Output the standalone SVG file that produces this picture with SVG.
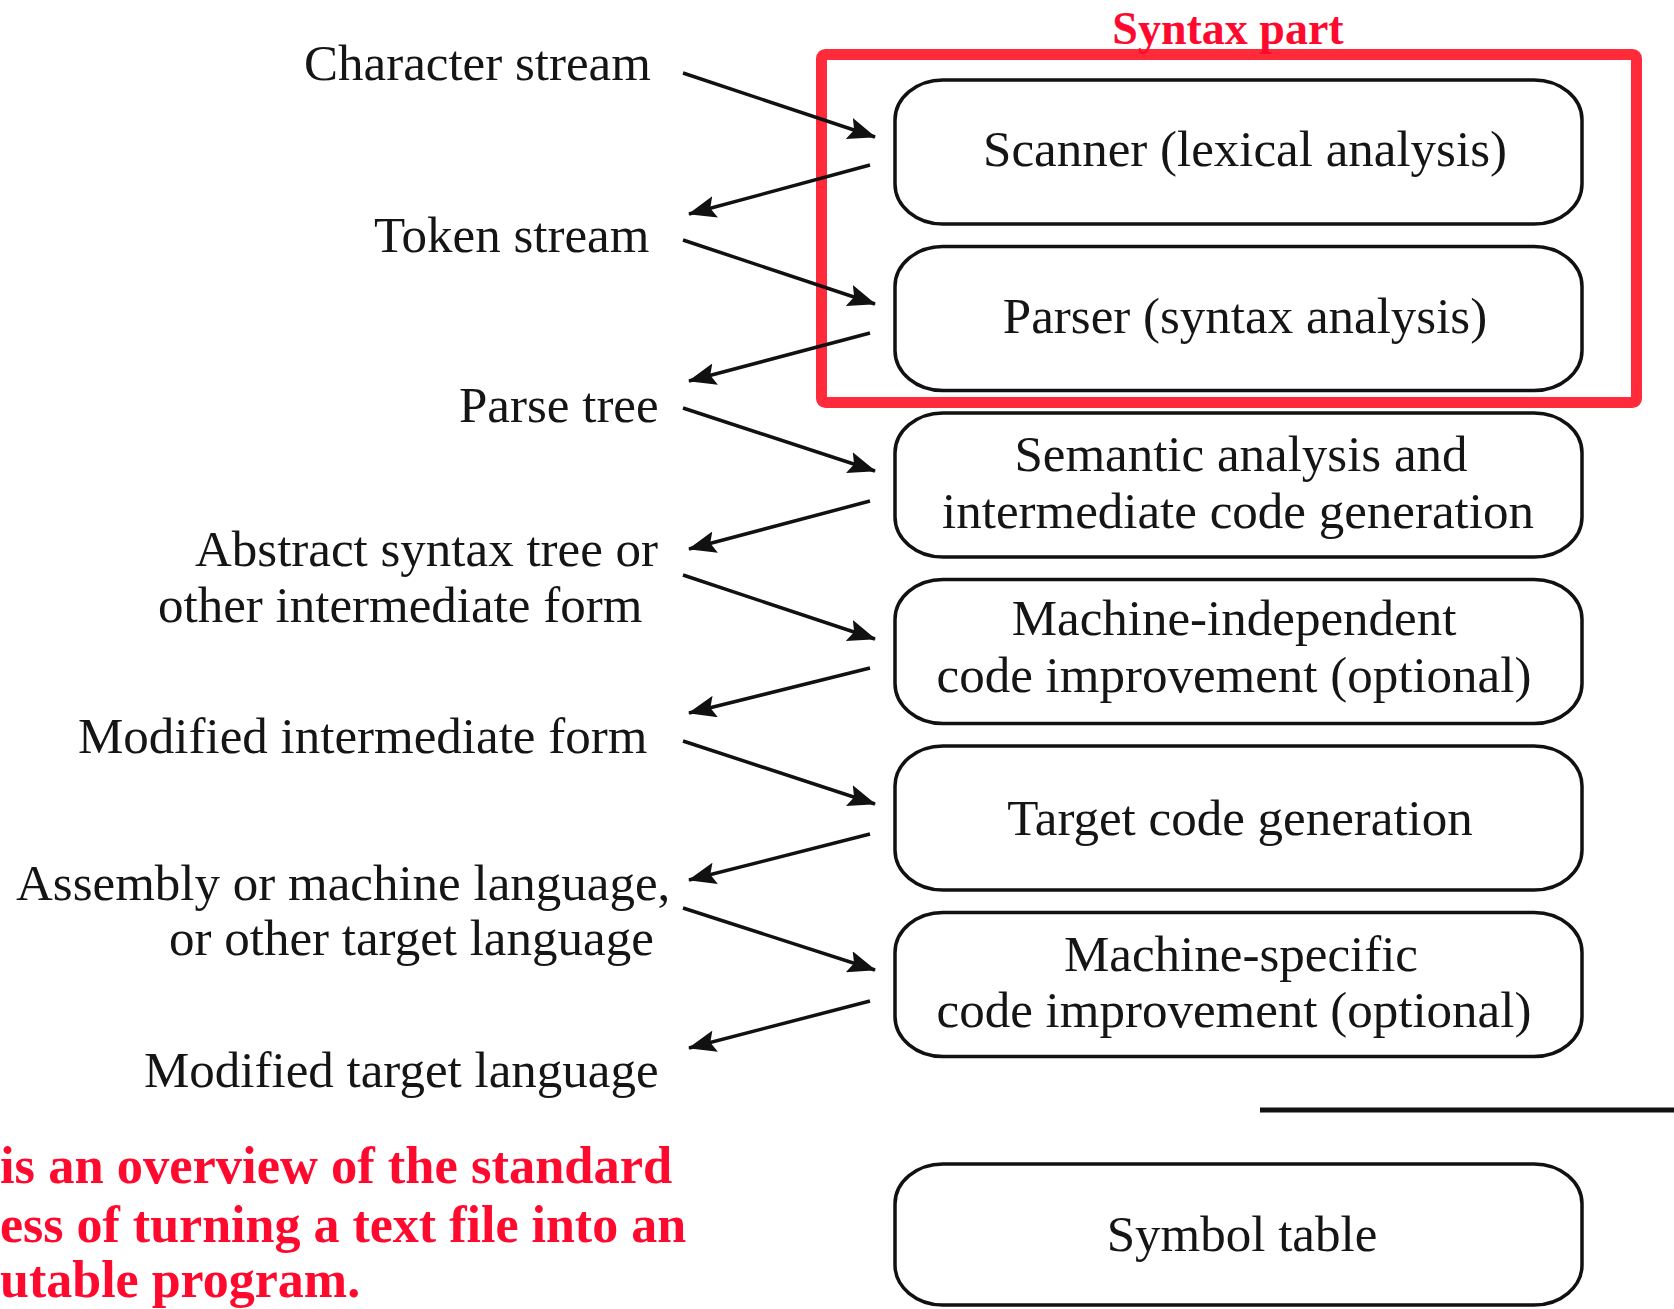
<svg xmlns="http://www.w3.org/2000/svg" width="1674" height="1309" viewBox="0 0 1674 1309">
  <defs>
    <style>
      .stage { fill: #ffffff; stroke: #111111; stroke-width: 3.5; }
      .lbl { font-family: "Liberation Serif", "Times New Roman", serif; font-size: 51px; fill: #151515; }
      .boxlbl { font-family: "Liberation Serif", "Times New Roman", serif; font-size: 51px; fill: #151515; text-anchor: middle; }
      .flow { stroke: #111111; stroke-width: 3.5; fill: none; marker-end: url(#head); }
      .note { font-family: "Liberation Serif", "Times New Roman", serif; font-weight: bold; fill: #ff0a2e; }
    </style>
    <marker id="head" viewBox="0 0 28 22" refX="27" refY="11" markerWidth="28" markerHeight="22" orient="auto" markerUnits="userSpaceOnUse">
      <path d="M0,0 L28,11 L0,22 L5,11 Z" fill="#111111"/>
    </marker>
  </defs>
  <rect width="1674" height="1309" fill="#ffffff"/>

  <!-- highlight around the front-end stages -->
  <g id="syntax-part">
    <rect x="821.5" y="54.5" width="815" height="348" rx="4" fill="none" stroke="#ff2a3a" stroke-width="11"/>
    <text class="note" x="1228" y="44" font-size="46" text-anchor="middle">Syntax part</text>
  </g>

  <!-- compiler stages -->
  <g id="scanner">
    <rect class="stage" x="895" y="80" width="687" height="144" rx="48" ry="40"/>
    <text class="boxlbl" x="1245" y="166">Scanner (lexical analysis)</text>
  </g>
  <g id="parser">
    <rect class="stage" x="895" y="246.5" width="687" height="144" rx="48" ry="40"/>
    <text class="boxlbl" x="1245" y="333">Parser (syntax analysis)</text>
  </g>
  <g id="semantic">
    <rect class="stage" x="895" y="413" width="687" height="144" rx="48" ry="40"/>
    <text class="boxlbl" x="1241" y="471">Semantic analysis and</text>
    <text class="boxlbl" x="1238" y="528">intermediate code generation</text>
  </g>
  <g id="mi-improve">
    <rect class="stage" x="895" y="579.5" width="687" height="144" rx="48" ry="40"/>
    <text class="boxlbl" x="1234" y="635">Machine-independent</text>
    <text class="boxlbl" x="1234" y="692">code improvement (optional)</text>
  </g>
  <g id="codegen">
    <rect class="stage" x="895" y="746" width="687" height="144" rx="48" ry="40"/>
    <text class="boxlbl" x="1240" y="835">Target code generation</text>
  </g>
  <g id="ms-improve">
    <rect class="stage" x="895" y="912.5" width="687" height="144" rx="48" ry="40"/>
    <text class="boxlbl" x="1241" y="971">Machine-specific</text>
    <text class="boxlbl" x="1234" y="1027">code improvement (optional)</text>
  </g>
  <g id="symtab">
    <rect class="stage" x="895" y="1164" width="687" height="141" rx="48" ry="40"/>
    <text class="boxlbl" x="1242" y="1251">Symbol table</text>
  </g>

  <!-- separator above the symbol table -->
  <line x1="1260" y1="1110" x2="1674" y2="1110" stroke="#111111" stroke-width="5"/>

  <!-- intermediate forms passed between stages -->
  <g id="labels">
    <text class="lbl" x="304" y="80">Character stream</text>
    <text class="lbl" x="374" y="252">Token stream</text>
    <text class="lbl" x="459" y="422">Parse tree</text>
    <text class="lbl" x="195" y="566">Abstract syntax tree or</text>
    <text class="lbl" x="158" y="622">other intermediate form</text>
    <text class="lbl" x="78" y="753">Modified intermediate form</text>
    <text class="lbl" x="16" y="900">Assembly or machine language,</text>
    <text class="lbl" x="169" y="955">or other target language</text>
    <text class="lbl" x="144" y="1087">Modified target language</text>
  </g>

  <g id="connectors">
    <line class="flow" x1="683" y1="73" x2="875" y2="137"/>
    <line class="flow" x1="870" y1="165" x2="689" y2="214"/>
    <line class="flow" x1="683" y1="240" x2="875" y2="304"/>
    <line class="flow" x1="870" y1="333" x2="689" y2="381"/>
    <line class="flow" x1="683" y1="408" x2="875" y2="471"/>
    <line class="flow" x1="870" y1="501" x2="689" y2="549"/>
    <line class="flow" x1="683" y1="575" x2="875" y2="639"/>
    <line class="flow" x1="870" y1="668" x2="689" y2="713"/>
    <line class="flow" x1="683" y1="741" x2="875" y2="804"/>
    <line class="flow" x1="870" y1="834" x2="689" y2="880"/>
    <line class="flow" x1="683" y1="908" x2="875" y2="970"/>
    <line class="flow" x1="870" y1="1001" x2="689" y2="1048"/>
  </g>

  <!-- caption -->
  <g id="caption">
    <text class="note" x="0" y="1183" font-size="52.5">is an overview of the standard</text>
    <text class="note" x="0" y="1242" font-size="52">ess of turning a text file into an</text>
    <text class="note" x="0" y="1297" font-size="52">utable program.</text>
  </g>
</svg>
